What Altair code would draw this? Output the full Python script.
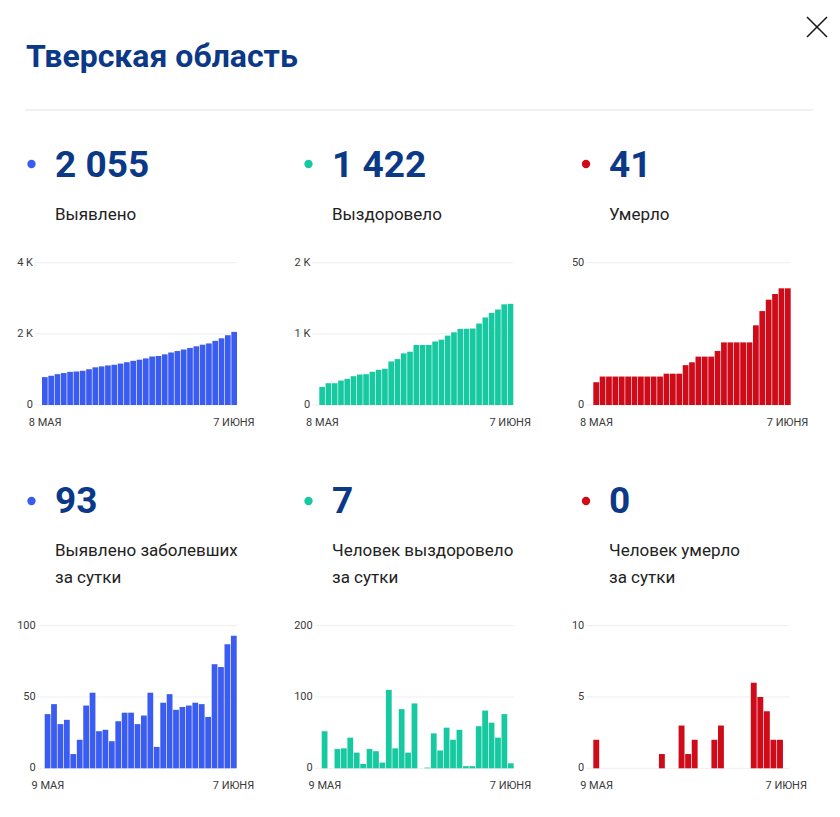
import altair as alt
import pandas as pd

# ---------------- data ----------------
title = "Тверская область"
totals = [2055, 1422, 41]
totals_daily = [93, 7, 0]
labels_top = ["Выявлено", "Выздоровело", "Умерло"]
labels_bottom = ["Выявлено заболевших\nза сутки", "Человек выздоровело\nза сутки", "Человек умерло\nза сутки"]
colors = ["#3b5cf0", "#17c9a1", "#cf0a19"]

cum_dates = pd.date_range("2020-05-08", "2020-06-07").strftime("%Y-%m-%d").tolist()
daily_dates = pd.date_range("2020-05-09", "2020-06-07").strftime("%Y-%m-%d").tolist()

cum_detected = [784, 822, 867, 898, 932, 942, 962, 1006, 1059, 1085, 1112, 1131, 1164, 1203,
                1242, 1273, 1310, 1363, 1378, 1424, 1476, 1517, 1560, 1604, 1650, 1695, 1731,
                1804, 1875, 1962, 2055]
cum_recovered = [254, 306, 306, 344, 367, 405, 428, 433, 467, 495, 509, 612, 645, 726, 749, 843,
                 843, 844, 893, 918, 975, 1022, 1069, 1072, 1075, 1145, 1230, 1295, 1342, 1415, 1422]
cum_deaths = [8, 10, 10, 10, 10, 10, 10, 10, 10, 10, 10, 11, 11, 11, 14, 15, 17, 17, 17, 19,
              22, 22, 22, 22, 22, 28, 33, 37, 39, 41, 41]

daily_detected = [38, 45, 31, 34, 10, 20, 44, 53, 26, 27, 19, 33, 39, 39, 31, 37, 53, 15, 46, 52,
                  41, 43, 44, 46, 45, 36, 73, 71, 87, 93]
daily_recovered = [52, 0, 27, 28, 43, 22, 6, 27, 24, 8, 110, 28, 83, 22, 91, 0, 1, 49, 25, 57,
                   40, 54, 3, 3, 59, 81, 64, 43, 76, 7]
daily_deaths = [2, 0, 0, 0, 0, 0, 0, 0, 0, 0, 1, 0, 0, 3, 1, 2, 0, 0, 2, 3,
                0, 0, 0, 0, 6, 5, 4, 2, 2, 0]

cum_ticks = [[0, 2000, 4000], [0, 1000, 2000], [0, 50]]
cum_tick_labels = [["0", "2 K", "4 K"], ["0", "1 K", "2 K"], ["0", "50"]]
daily_ticks = [[0, 50, 100], [0, 100, 200], [0, 5, 10]]
daily_tick_labels = [["0", "50", "100"], ["0", "100", "200"], ["0", "5", "10"]]
cum_x_labels = ["8 МАЯ", "7 ИЮНЯ"]
daily_x_labels = ["9 МАЯ", "7 ИЮНЯ"]

# ---------------- styling ----------------
NAVY = "#0b3987"
FONT = "Roboto"
AXIS_TXT = "#3a3a3a"


def panel(dates, values, color, ticks, tick_labels, xlabs, x0, x1, ybase, ytop):
    xs = alt.Scale(domain=dates, range=[x0, x1], paddingInner=0.1, paddingOuter=0)
    ys = alt.Scale(domain=[0, ticks[-1]], range=[ybase, ytop], nice=False, zero=True)
    df = pd.DataFrame({"d": dates, "v": values})
    tdf = pd.DataFrame({"t": ticks, "lab": tick_labels})
    xdf = pd.DataFrame({"d": [dates[0], dates[-1]], "lab": xlabs})
    grid = alt.Chart(tdf).mark_rule(color="#eeeeee", strokeWidth=1).encode(
        y=alt.Y("t:Q", scale=ys, axis=None),
        x=alt.value(x0 - 7), x2=alt.value(x1))
    bars = alt.Chart(df).mark_bar(color=color).encode(
        x=alt.X("d:O", scale=xs, axis=None),
        y=alt.Y("v:Q", scale=ys, axis=None))
    ylab = alt.Chart(tdf).mark_text(align="right", baseline="middle", fontSize=11,
                                    color=AXIS_TXT, font=FONT).encode(
        y=alt.Y("t:Q", scale=ys, axis=None), x=alt.value(x0 - 9), text="lab:N")
    xlab = alt.Chart(xdf).mark_text(align="center", baseline="middle", fontSize=11,
                                    color=AXIS_TXT, font=FONT).encode(
        x=alt.X("d:O", scale=xs, axis=None), y=alt.value(ybase + 18), text="lab:N")
    return [grid, bars, ylab, xlab]


def header_block(number, label, color, dot_x, num_x, num_base, dot_y, lab_base):
    num_df = pd.DataFrame({"t": [f"{number:,}".replace(",", " ")]})
    lab_df = pd.DataFrame({"t": [label]})
    dot = alt.Chart(num_df).mark_circle(color=color, opacity=1, size=70).encode(
        x=alt.value(dot_x), y=alt.value(dot_y))
    num = alt.Chart(num_df).mark_text(align="left", baseline="alphabetic", fontSize=37,
                                      fontWeight="bold", color=NAVY, font=FONT).encode(
        x=alt.value(num_x), y=alt.value(num_base), text="t:N")
    lab = alt.Chart(lab_df).mark_text(align="left", baseline="alphabetic", fontSize=17,
                                      color="#222222", font=FONT, lineBreak="\n",
                                      lineHeight=27).encode(
        x=alt.value(num_x), y=alt.value(lab_base), text="t:N")
    return [dot, num, lab]


layers = []

# header
layers.append(alt.Chart(pd.DataFrame({"t": [title]})).mark_text(
    align="left", baseline="alphabetic", fontSize=32, fontWeight="bold", color=NAVY, font=FONT
).encode(x=alt.value(26), y=alt.value(67), text="t:N"))
layers.append(alt.Chart(pd.DataFrame({"t": [title]})).mark_rule(color="#e2e2e2", strokeWidth=1).encode(
    x=alt.value(25), x2=alt.value(813), y=alt.value(110)))
layers.append(alt.Chart(pd.DataFrame({"t": [title]})).mark_rule(color="#1a1a1a", strokeWidth=1.6).encode(
    x=alt.value(807), y=alt.value(17), x2=alt.value(827), y2=alt.value(37)))
layers.append(alt.Chart(pd.DataFrame({"t": [title]})).mark_rule(color="#1a1a1a", strokeWidth=1.6).encode(
    x=alt.value(827), y=alt.value(17), x2=alt.value(807), y2=alt.value(37)))

dot_xs = [31.5, 308.5, 586]
num_xs = [55, 332, 609]

# top row: cumulative
cum_values = [cum_detected, cum_recovered, cum_deaths]
cum_ranges = [(42, 237), (319.3, 513.3), (593.3, 790.7)]
for i in range(3):
    layers += header_block(totals[i], labels_top[i], colors[i], dot_xs[i], num_xs[i], 177, 164, 220)
    layers += panel(cum_dates, cum_values[i], colors[i], cum_ticks[i], cum_tick_labels[i],
                    cum_x_labels, cum_ranges[i][0], cum_ranges[i][1], 405, 262.7)

# bottom row: daily
daily_values = [daily_detected, daily_recovered, daily_deaths]
daily_ranges = [(44.7, 236.7), (321.7, 513.7), (593.3, 789.5)]
for i in range(3):
    layers += header_block(totals_daily[i], labels_bottom[i], colors[i], dot_xs[i], num_xs[i], 513, 501, 556)
    layers += panel(daily_dates, daily_values[i], colors[i], daily_ticks[i], daily_tick_labels[i],
                    daily_x_labels, daily_ranges[i][0], daily_ranges[i][1], 768.3, 625.7)

chart = alt.layer(*layers).resolve_scale(x="independent", y="independent").properties(
    width=840, height=817, padding=0, autosize="none", background="white"
).configure_view(stroke=None)

chart.save("out.html", embed_options={"renderer": "svg", "actions": False})
